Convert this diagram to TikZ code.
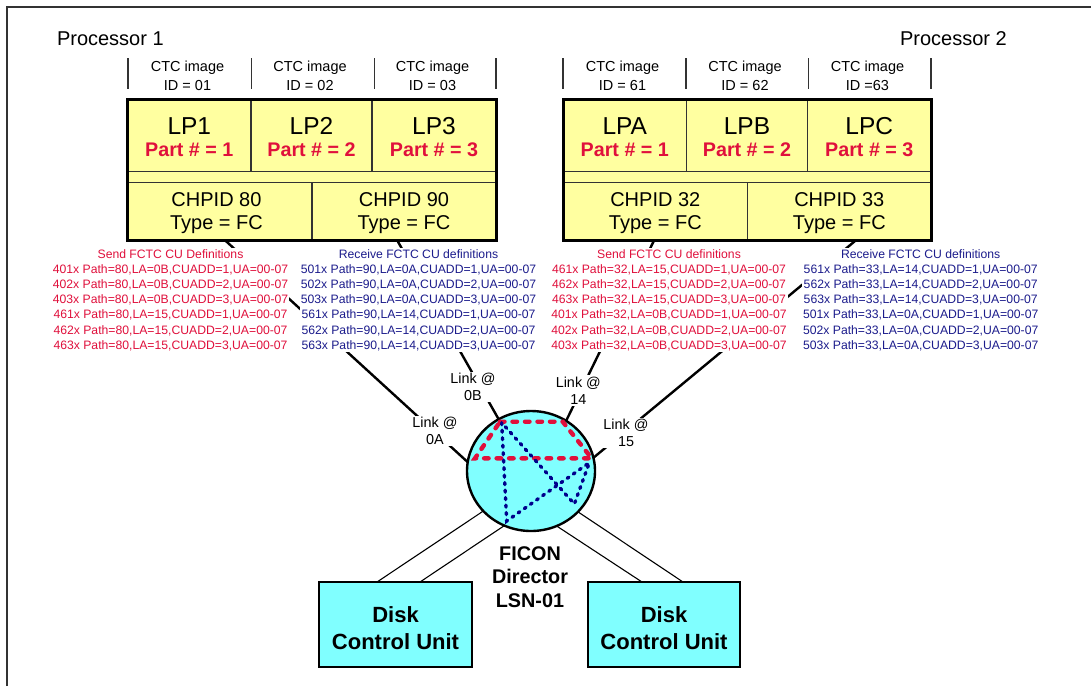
\documentclass[tikz,border=0pt]{standalone}
\usepackage{fontspec}
\setmainfont{Liberation Sans}
\usetikzlibrary{shapes.geometric,calc,backgrounds}
\definecolor{boxyellow}{HTML}{FFFFA0}
\definecolor{dircyan}{HTML}{80FFFF}
\definecolor{defred}{HTML}{E0103C}
\definecolor{defblue}{HTML}{1C1C8C}
\definecolor{dotblue}{HTML}{00008C}
\definecolor{framegray}{HTML}{333333}
\begin{document}
\begin{tikzpicture}[x=1pt,y=-1pt,
  every node/.style={inner sep=0pt,outer sep=0pt},
  cell/.style={draw=framegray,line width=1.3pt,fill=boxyellow,anchor=north west,minimum height=#1},
  cell/.default={72.5},
  lptxt/.style={anchor=base,font=\fontsize{24.5}{28}\selectfont},
  parttxt/.style={anchor=base,text=defred,font=\fontsize{19.7}{23}\selectfont\bfseries},
  chptxt/.style={anchor=base,align=center,font=\fontsize{20}{22.6}\selectfont},
  ctctxt/.style={anchor=base,align=center,font=\fontsize{14.5}{18.5}\selectfont},
  proctxt/.style={anchor=base west,font=\fontsize{20}{24}\selectfont},
  deftxt/.style={anchor=base,align=center,fill=white,inner sep=1.2pt,font=\fontsize{12.2}{15.2}\selectfont},
  linktxt/.style={anchor=base,align=center,fill=white,inner sep=1.5pt,font=\fontsize{14.4}{16.8}\selectfont},
  tickline/.style={framegray,line width=1.4pt},
  heavy/.style={black,line width=3pt},
  conn/.style={black,line width=2.4pt},
  cable/.style={black,line width=1.1pt},
  reddash/.style={defred,line width=4.4pt,line cap=round,dash pattern=on 4.5pt off 8pt},
  bluedot/.style={dotblue,line width=3.4pt,line cap=round,dash pattern=on 2pt off 5.5pt},
  diskbox/.style={draw=black,line width=1.2pt,fill=dircyan,anchor=north west,minimum width=153pt,minimum height=85pt},
  disktxt/.style={anchor=base,align=center,font=\fontsize{22}{27}\selectfont\bfseries},
  dirtxt/.style={anchor=base,align=center,font=\fontsize{19.8}{23.5}\selectfont\bfseries}
]
\useasboundingbox (0,0) rectangle (1091,686);
% frame
\draw[framegray,line width=1.4pt] (7,686) -- (7,7) -- (1091,7);

% processor labels
\node[proctxt] (p1lbl) at (57,45.7) {Processor 1};
\node[proctxt] (p2lbl) at (900,45.7) {Processor 2};

% CTC image ticks
\foreach \xx in {128,251.5,374.5,496,563,686,808.5,931}
  \draw[tickline] (\xx,58) -- (\xx,89);
\node[ctctxt] (ctc01) at (187.5,90) {CTC image\\ID = 01};
\node[ctctxt] (ctc02) at (310,90) {CTC image\\ID = 02};
\node[ctctxt] (ctc03) at (432.5,90) {CTC image\\ID = 03};
\node[ctctxt] (ctc61) at (622.5,90) {CTC image\\ID = 61};
\node[ctctxt] (ctc62) at (745,90) {CTC image\\ID = 62};
\node[ctctxt] (ctc63) at (867.5,90) {CTC image\\ID =63};

% processor 1 box
\node[cell,minimum width=123.5pt] (lp1) at (127.5,99) {};
\node[cell,minimum width=121pt] (lp2) at (251,99) {};
\node[cell,minimum width=124pt] (lp3) at (372,99) {};
\node[cell=11pt,minimum width=368.5pt] (strip1) at (127.5,171.5) {};
\node[cell=57.5pt,minimum width=184.5pt] (chp80) at (127.5,182.5) {};
\node[cell=57.5pt,minimum width=184pt] (chp90) at (312,182.5) {};
\draw[heavy] (lp1.north west) rectangle (chp90.south east);
\node[lptxt] (lp1a) at (189.3,134.3) {LP1};
\node[lptxt] (lp2a) at (311.5,134.3) {LP2};
\node[lptxt] (lp3a) at (434,134.3) {LP3};
\node[parttxt] (lp1b) at (189.3,156.7) {Part \# = 1};
\node[parttxt] (lp2b) at (311.5,156.7) {Part \# = 2};
\node[parttxt] (lp3b) at (434,156.7) {Part \# = 3};
\node[chptxt] (chp80t) at (216.5,229.3) {CHPID 80\\Type = FC};
\node[chptxt] (chp90t) at (404,229.3) {CHPID 90\\Type = FC};

% processor 2 box
\node[cell,minimum width=123.5pt] (lpa) at (563,99) {};
\node[cell,minimum width=121pt] (lpb) at (686.5,99) {};
\node[cell,minimum width=123.5pt] (lpc) at (807.5,99) {};
\node[cell=11pt,minimum width=368pt] (strip2) at (563,171.5) {};
\node[cell=57.5pt,minimum width=184.5pt] (chp32) at (563,182.5) {};
\node[cell=57.5pt,minimum width=183.5pt] (chp33) at (747.5,182.5) {};
\draw[heavy] (lpa.north west) rectangle (chp33.south east);
\node[lptxt] (lpa1) at (624.8,134.3) {LPA};
\node[lptxt] (lpb1) at (747,134.3) {LPB};
\node[lptxt] (lpc1) at (869.3,134.3) {LPC};
\node[parttxt] (lpa2) at (624.8,156.7) {Part \# = 1};
\node[parttxt] (lpb2) at (747,156.7) {Part \# = 2};
\node[parttxt] (lpc2) at (869.3,156.7) {Part \# = 3};
\node[chptxt] (chp32t) at (655.3,229.3) {CHPID 32\\Type = FC};
\node[chptxt] (chp33t) at (839.3,229.3) {CHPID 33\\Type = FC};

% definitions
\node[deftxt,text=defred] (send1) at (170.5,349.2) {Send FCTC CU Definitions\\
401x Path=80,LA=0B,CUADD=1,UA=00-07\\
402x Path=80,LA=0B,CUADD=2,UA=00-07\\
403x Path=80,LA=0B,CUADD=3,UA=00-07\\
461x Path=80,LA=15,CUADD=1,UA=00-07\\
462x Path=80,LA=15,CUADD=2,UA=00-07\\
463x Path=80,LA=15,CUADD=3,UA=00-07};
\node[deftxt,text=defblue] (recv1) at (418.5,349.2) {Receive FCTC CU definitions\\
501x Path=90,LA=0A,CUADD=1,UA=00-07\\
502x Path=90,LA=0A,CUADD=2,UA=00-07\\
503x Path=90,LA=0A,CUADD=3,UA=00-07\\
561x Path=90,LA=14,CUADD=1,UA=00-07\\
562x Path=90,LA=14,CUADD=2,UA=00-07\\
563x Path=90,LA=14,CUADD=3,UA=00-07};
\node[deftxt,text=defred] (send2) at (669,349.2) {Send FCTC CU definitions\\
461x Path=32,LA=15,CUADD=1,UA=00-07\\
462x Path=32,LA=15,CUADD=2,UA=00-07\\
463x Path=32,LA=15,CUADD=3,UA=00-07\\
401x Path=32,LA=0B,CUADD=1,UA=00-07\\
402x Path=32,LA=0B,CUADD=2,UA=00-07\\
403x Path=32,LA=0B,CUADD=3,UA=00-07};
\node[deftxt,text=defblue] (recv2) at (920.7,349.2) {Receive FCTC CU definitions\\
561x Path=33,LA=14,CUADD=1,UA=00-07\\
562x Path=33,LA=14,CUADD=2,UA=00-07\\
563x Path=33,LA=14,CUADD=3,UA=00-07\\
501x Path=33,LA=0A,CUADD=1,UA=00-07\\
502x Path=33,LA=0A,CUADD=2,UA=00-07\\
503x Path=33,LA=0A,CUADD=3,UA=00-07};

% link labels
\node[linktxt] (l0a) at (435,444.5) {Link @\\0A};
\node[linktxt] (l0b) at (473,400.5) {Link @\\0B};
\node[linktxt] (l14) at (578.3,404) {Link @\\14};
\node[linktxt] (l15) at (626,446.7) {Link @\\15};

% director
\node[ellipse,draw=black,line width=2.4pt,fill=dircyan,minimum width=128pt,minimum height=120pt] (dir) at (531,471) {};
\draw[reddash] (500,421.7) -- (562.7,421.7) -- (591.7,458.3) -- (475,458.3) -- cycle;
\draw[bluedot] (501.7,422.7) -- (506.7,521) -- (589.3,462.7) -- (574.3,504) -- cycle;
\node[dirtxt] (dirlbl) at (530,607) {FICON\\Director\\LSN-01};

% disk control units
\node[diskbox] (disk1) at (319,582) {};
\node[diskbox,minimum width=152pt] (disk2) at (588,582) {};
\node[disktxt] (disk1t) at (395.5,649) {Disk\\Control Unit};
\node[disktxt] (disk2t) at (664,649) {Disk\\Control Unit};

% connectors
\begin{pgfonlayer}{background}
\draw[conn] ($(chp80.south)+(5,0)$) -- (dir.172);
\draw[conn] ($(chp90.south)+(-7,0)$) -- (dir.122);
\draw[conn] ($(chp32.south)+(-1,0)$) -- (dir.55);
\draw[conn] ($(chp33.south)+(17,0)$) -- (dir.12);
\draw[cable] (dir.220) -- ($(disk1.north)+(-18.5,0)$);
\draw[cable] (dir.244) -- ($(disk1.north)+(24.5,0)$);
\draw[cable] (dir.295) -- ($(disk2.north)+(-22,0)$);
\draw[cable] (dir.319) -- ($(disk2.north)+(19,0)$);
\end{pgfonlayer}
\end{tikzpicture}
\end{document}
